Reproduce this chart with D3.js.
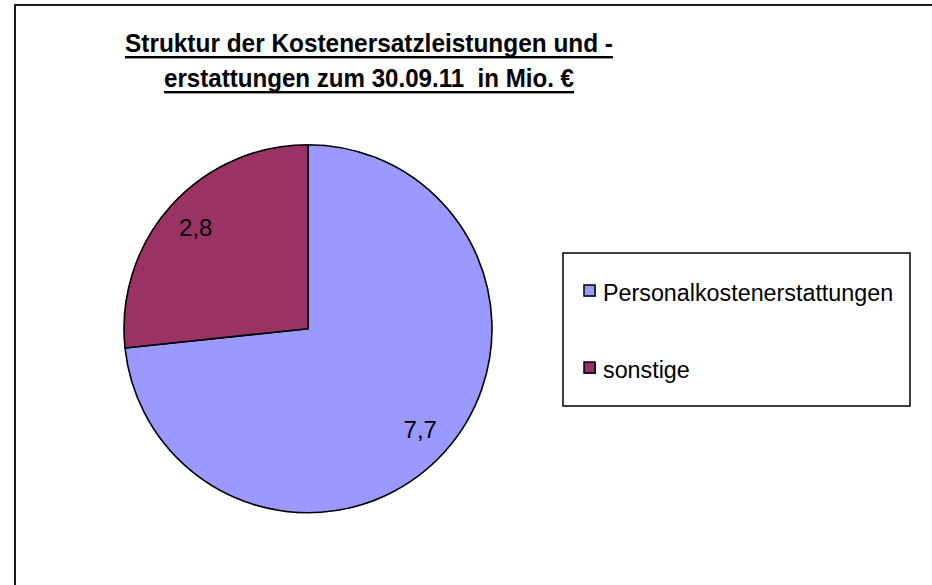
<!DOCTYPE html>
<html>
<head>
<meta charset="utf-8">
<script src="https://cdn.jsdelivr.net/npm/d3@7"></script>
<style>
  html, body { margin: 0; padding: 0; background: #fff; }
  svg { display: block; }
  text { font-family: "Liberation Sans", Arial, Helvetica, sans-serif; }
</style>
</head>
<body>
<svg id="chart" width="932" height="585"></svg>
<script>
const categories = ["Personalkostenerstattungen", "sonstige"];
const values = [7.7, 2.8];
const valueLabels = ["7,7", "2,8"];
const colors = ["#9999FF", "#993366"];
const titleLines = ["Struktur der Kostenersatzleistungen und -", "erstattungen zum 30.09.11  in Mio. €"];

const svg = d3.select("#chart");

// outer frame
svg.append("rect")
  .attr("x", 15).attr("y", 5)
  .attr("width", 1000).attr("height", 700)
  .attr("fill", "#fff").attr("stroke", "#000").attr("stroke-width", 1.8);

// title
const titleWidths = [488, 410];
const titleBaselines = [52, 87];
titleLines.forEach((t, i) => {
  svg.append("text")
    .attr("x", 369).attr("y", titleBaselines[i])
    .attr("text-anchor", "middle")
    .attr("font-size", 26).attr("font-weight", "bold")
    .style("white-space", "pre")
    .attr("textLength", titleWidths[i])
    .attr("lengthAdjust", "spacingAndGlyphs")
    .text(t);
  svg.append("rect")
    .attr("x", 369 - titleWidths[i] / 2).attr("y", titleBaselines[i] + 4)
    .attr("width", titleWidths[i]).attr("height", 2.4)
    .attr("fill", "#000");
});

// pie
const cx = 308, cy = 328.7, r = 184;
const pie = d3.pie().sort(null).value(d => d)(values);
const arc = d3.arc().innerRadius(0).outerRadius(r);
const labelArc = d3.arc().innerRadius(151).outerRadius(151);
const g = svg.append("g").attr("transform", `translate(${cx},${cy})`);
g.selectAll("path.slice").data(pie).join("path")
  .attr("class", "slice")
  .attr("d", arc)
  .attr("fill", (d, i) => colors[i])
  .attr("stroke", "#000").attr("stroke-width", 1.6)
  .attr("stroke-linejoin", "round");
g.selectAll("text.lbl").data(pie).join("text")
  .attr("class", "lbl")
  .attr("transform", d => `translate(${labelArc.centroid(d)})`)
  .attr("text-anchor", "middle")
  .attr("dy", "0.35em")
  .attr("font-size", 24)
  .attr("fill", "#000")
  .text((d, i) => valueLabels[i]);

// legend
svg.append("rect")
  .attr("x", 563).attr("y", 253)
  .attr("width", 347).attr("height", 153)
  .attr("fill", "#fff").attr("stroke", "#000").attr("stroke-width", 1.5);
const legendY = [301, 378];
categories.forEach((c, i) => {
  svg.append("rect")
    .attr("x", 585).attr("y", legendY[i] - 15)
    .attr("width", 11).attr("height", 11)
    .attr("fill", colors[i]);
  svg.append("rect")
    .attr("x", 584).attr("y", legendY[i] - 16)
    .attr("width", 11).attr("height", 11)
    .attr("fill", colors[i]).attr("stroke", "#000").attr("stroke-width", 1.5);
  svg.append("text")
    .attr("x", 603).attr("y", legendY[i])
    .attr("font-size", 23.3)
    .text(c);
});
</script>
</body>
</html>
